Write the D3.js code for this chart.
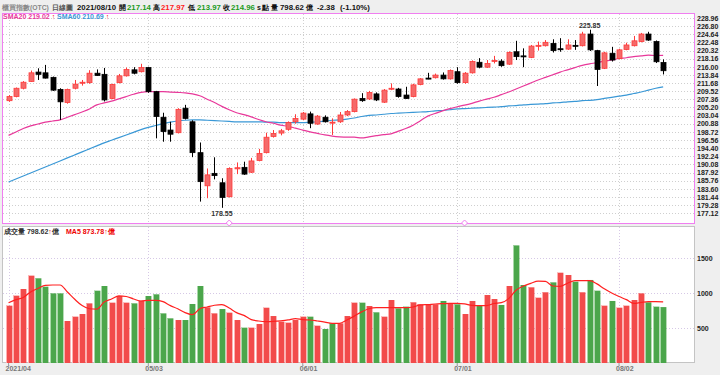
<!DOCTYPE html>
<html><head><meta charset="utf-8">
<script src="https://cdn.jsdelivr.net/npm/d3@7"></script>
<style>
html,body{margin:0;padding:0;background:#efefef;}
svg{display:block;font-family:"Liberation Sans",Arial,sans-serif;}
</style></head><body>
<svg id="c" width="720" height="375"></svg>
<script>
const dates = ["04/06","04/07","04/08","04/09","04/12","04/13","04/14","04/15","04/16","04/19","04/20","04/21","04/22","04/23","04/26","04/27","04/28","04/29","04/30",
"05/03","05/04","05/05","05/06","05/07","05/10","05/11","05/12","05/13","05/14","05/17","05/18","05/19","05/20","05/21","05/24","05/25","05/26","05/27","05/28","05/31",
"06/01","06/02","06/03","06/04","06/07","06/08","06/09","06/10","06/11","06/15","06/16","06/17","06/18","06/21","06/22","06/23","06/24","06/25","06/28","06/29","06/30",
"07/01","07/02","07/05","07/06","07/07","07/08","07/09","07/12","07/13","07/14","07/15","07/16","07/19","07/20","07/21","07/22","07/23","07/26","07/27","07/28","07/29","07/30",
"08/02","08/03","08/04","08/05","08/06","08/09","08/10"];
const open  = [207.0,208.1,210.3,212.1,214.6,214.4,213.2,210.0,206.5,210.3,211.7,211.8,214.3,214.0,207.6,211.8,213.6,215.2,214.7,
215.8,209.4,202.6,199.2,198.5,205.0,201.4,193.2,184.4,187.7,185.2,181.5,188.9,189.3,188.0,191.1,193.2,197.5,198.4,199.4,201.4,
202.1,203.5,200.8,202.6,201.2,201.4,203.2,204.1,207.6,207.45,208.8,206.6,210.1,210.1,208.5,208.1,211.3,213.0,213.1,213.8,212.8,
214.7,211.8,214.4,217.2,215.9,217.5,217.5,216.7,220.0,218.9,218.5,221.5,221.6,222.2,220.8,220.7,221.7,221.6,224.7,220.3,215.6,219.6,
218.2,220.6,221.6,222.7,224.7,222.7,217.14];
const high  = [208.5,210.5,212.2,215.0,215.6,216.5,213.4,210.3,210.2,212.5,212.5,215.1,215.3,215.7,211.5,214.1,215.8,215.9,216.8,
216.0,209.6,203.8,201.4,205.0,205.9,201.8,195.9,189.0,191.97,186.4,189.3,190.6,190.8,191.8,194.2,198.5,199.2,199.5,201.5,203.4,
204.0,204.1,203.2,203.1,202.3,204.0,204.5,207.6,209.0,209.6,209.2,210.1,211.6,210.4,210.7,211.5,213.0,214.4,214.2,214.5,215.3,
215.9,214.6,217.7,218.3,217.8,218.9,218.0,220.1,222.9,220.9,221.8,222.7,223.1,223.3,223.6,223.3,223.1,225.3,225.85,220.5,220.0,221.3,
220.8,222.4,224.2,225.0,225.3,223.0,217.97];
const low   = [206.7,207.9,210.0,212.0,212.5,212.9,209.6,201.9,206.2,210.0,211.0,211.5,213.6,206.8,207.4,211.6,213.4,214.0,214.5,
209.1,197.0,196.1,196.1,198.3,202.0,192.0,180.2,181.1,186.1,178.55,181.3,187.5,187.3,187.8,190.9,193.0,197.2,197.8,199.0,200.9,
201.8,199.7,200.6,201.2,197.9,201.1,202.9,203.9,206.7,207.2,206.9,206.4,209.8,207.8,207.5,207.9,211.1,212.7,212.9,212.6,212.6,
211.5,211.5,214.2,215.6,215.7,216.9,216.0,216.5,217.8,215.9,218.3,220.3,221.4,219.8,220.0,220.5,220.5,221.4,220.2,210.9,215.4,217.4,
218.0,220.4,221.4,222.5,222.9,217.0,213.97];
const close = [208.1,210.3,211.9,214.4,214.0,213.0,209.8,206.7,210.0,211.4,211.9,214.3,213.7,207.2,211.3,213.6,215.3,214.3,215.8,
209.4,202.8,198.8,198.1,204.7,202.3,193.2,185.5,187.3,187.1,181.3,189.0,189.2,187.5,191.0,193.0,197.3,198.3,199.0,201.2,202.3,
203.7,201.0,202.9,201.4,201.3,203.2,204.1,207.4,207.0,209.2,207.2,209.8,210.3,208.1,207.6,211.2,212.8,212.9,213.8,212.8,215.0,
211.8,214.3,217.4,215.9,216.9,217.7,216.3,219.8,218.7,218.7,221.5,221.7,222.5,220.3,220.6,221.8,221.6,224.7,220.5,215.3,219.7,217.8,
220.5,221.8,222.9,224.7,223.1,217.34,214.96];
const sma20 = [197.8,198.7,199.6,200.3,200.8,201.3,201.6,201.9,202.6,203.3,204.0,204.8,205.9,206.4,206.9,207.5,208.1,208.7,209.2,
209.4,209.4,209.4,209.3,209.2,209.1,208.8,208.3,207.4,206.5,205.5,204.6,203.8,203.3,202.7,202.0,201.4,201.0,200.5,200.2,199.7,
199.2,198.7,198.3,197.9,197.6,197.4,197.3,197.3,197.1,197.4,197.7,198.0,198.2,198.9,199.6,200.5,201.7,202.9,203.6,204.3,204.9,
205.4,205.8,206.3,206.9,207.4,207.9,208.6,209.3,210.1,210.9,211.7,212.5,213.2,213.9,214.6,215.2,215.8,216.4,216.8,217.1,217.5,217.8,
218.2,218.4,218.7,218.9,219.1,219.0,219.02];
const sma60 = [185.4,186.2,187.0,187.8,188.6,189.4,190.2,191.0,191.8,192.6,193.4,194.2,195.0,195.8,196.5,197.2,197.9,198.6,199.3,
199.9,200.4,200.9,201.3,201.6,201.8,201.9,201.9,201.8,201.7,201.6,201.5,201.4,201.4,201.4,201.4,201.3,201.3,201.2,201.2,201.2,
201.2,201.3,201.4,201.6,201.8,201.9,202.1,202.4,202.8,203.1,203.2,203.4,203.6,203.7,203.8,203.9,204.0,204.1,204.3,204.4,204.6,
204.8,204.9,205.0,205.1,205.2,205.3,205.4,205.6,205.7,205.9,206.0,206.1,206.2,206.4,206.5,206.7,206.8,207.0,207.1,207.3,207.6,207.9,
208.2,208.5,208.9,209.3,209.8,210.3,210.69];
const volume = [819,962,1057,1248,1210,1090,995,995,600,662,700,852,1033,1100,862,957,862,852,890,
957,981,709,638,614,614,843,1100,795,709,771,719,614,505,505,557,790,671,590,576,614,
662,662,533,486,567,567,671,862,862,814,724,662,900,781,805,867,838,838,838,886,852,
838,700,886,819,971,914,829,1100,1680,1114,1081,933,1010,1152,1290,1257,1162,1010,1186,1033,819,886,
790,819,900,995,867,805,798.62];
const volUp = [1,1,1,1,0,0,0,0,1,1,1,1,0,0,1,1,1,0,1,
0,0,0,0,1,0,0,0,1,1,0,1,1,0,1,1,1,1,1,1,1,
1,0,1,0,0,1,1,1,0,1,0,1,1,0,0,1,1,1,1,0,1,
0,1,1,0,1,1,0,1,0,0,1,1,1,0,1,1,0,1,0,0,1,0,
1,1,1,1,0,0,0];
const volMA5 = [860,905,935,1015,1065,1110,1114,1114,1015,910,820,775,771,870,915,960,950,915,886,
895,895,876,820,775,720,690,775,800,825,835,785,720,680,620,600,592,595,603,615,635,
620,614,600,585,567,567,615,670,730,775,790,790,790,790,790,800,829,835,843,848,852,
852,845,822,819,820,850,862,920,1040,1100,1138,1170,1165,1100,1095,1140,1176,1176,1176,1130,1060,1000,
950,905,852,865,876,876,873.78];
const priceTicks = [228.96,226.80,224.64,222.48,220.32,218.16,216.00,213.84,211.68,209.52,207.36,205.20,203.04,200.88,198.72,196.56,194.40,192.24,190.08,187.92,185.76,183.60,181.44,179.28,177.12];
const volTicks = [500,1000,1500];
const monthTicks = ["04/06","05/03","06/01","07/01","08/02"];
const monthLabels = ["2021/04","05/03","06/01","07/01","08/02"];
const eventDays = ["05/18","07/02"];

const svg = d3.select("#c");
const PINK = "#f07ef0", UPC = "#ff3b3b", UPF = "#f46a6a", DN = "#000";
const C20 = "#e8389a", C60 = "#3a98d6";

// panels
svg.append("rect").attr("x",2.5).attr("y",13.5).attr("width",692).attr("height",210).attr("fill","#fff").attr("stroke",PINK);
svg.append("rect").attr("x",2.5).attr("y",226.5).attr("width",692).attr("height",136).attr("fill","#fff").attr("stroke","#c4c4c4");

const x = d3.scaleBand().domain(dates).range([4.88, 4.88 + 90*7.355]).padding(0);
const cx = d => x(d) + x.bandwidth()/2;
const y = d3.scaleLinear().domain([177.12, 228.96]).range([213.2, 18]);
const yv = d3.scaleLinear().domain([0, 1500]).range([363, 258]);

// grids
const g = svg.append("g");
g.selectAll(".hg").data(priceTicks).enter().append("line")
 .attr("x1",3).attr("x2",694).attr("y1",d=>Math.round(y(d))+0.5).attr("y2",d=>Math.round(y(d))+0.5)
 .attr("stroke","#cfcfcf").attr("stroke-dasharray","1,2");
g.selectAll(".vg").data(monthTicks).enter().append("line")
 .attr("x1",d=>Math.round(cx(d))+0.5).attr("x2",d=>Math.round(cx(d))+0.5).attr("y1",14).attr("y2",223)
 .attr("stroke","#cfcfcf").attr("stroke-dasharray","1,2");
g.selectAll(".vg2").data(monthTicks).enter().append("line")
 .attr("x1",d=>Math.round(cx(d))+0.5).attr("x2",d=>Math.round(cx(d))+0.5).attr("y1",227).attr("y2",366)
 .attr("stroke","#d6c8e6").attr("stroke-dasharray","1,2");
g.selectAll(".hv").data(volTicks).enter().append("line")
 .attr("x1",3).attr("x2",694).attr("y1",d=>Math.round(yv(d))+0.5).attr("y2",d=>Math.round(yv(d))+0.5)
 .attr("stroke","#d6c8e6").attr("stroke-dasharray","1,2");

// right axis labels
const yAxis = d3.axisRight(y).tickValues(priceTicks).tickSize(0).tickPadding(3).tickFormat(d3.format(".2f"));
const ya = svg.append("g").attr("transform","translate(694,0)").call(yAxis);
ya.select(".domain").remove();
ya.selectAll("text").attr("font-size",7).attr("font-weight","bold").attr("fill","#222");
const vAxis = d3.axisRight(yv).tickValues(volTicks).tickSize(0).tickPadding(3).tickFormat(d3.format("d"));
const va = svg.append("g").attr("transform","translate(694,0)").call(vAxis);
va.select(".domain").remove();
va.selectAll("text").attr("font-size",7).attr("font-weight","bold").attr("fill","#222");

// x axis
const xa = svg.append("g").attr("transform","translate(0,363)").call(d3.axisBottom(x).tickValues(monthTicks).tickSize(3).tickFormat((d,i)=>monthLabels[i]));
xa.select(".domain").remove();
xa.selectAll("line").attr("stroke","#999");
xa.selectAll("text").attr("font-size",7).attr("font-weight","bold").attr("fill","#777").attr("text-anchor","start").attr("dy","0.55em").attr("y",4).attr("x",-3);

// MA lines
const lineP = arr => d3.line().x((d,i)=>cx(dates[i])).y(d=>y(d)).curve(d3.curveMonotoneX)(arr);
svg.append("path").attr("d",lineP(sma60)).attr("fill","none").attr("stroke",C60).attr("stroke-width",1.2);
svg.append("path").attr("d",lineP(sma20)).attr("fill","none").attr("stroke",C20).attr("stroke-width",1.2);

// candles
const idx = d3.range(dates.length);
const cg = svg.append("g");
cg.selectAll(".wick").data(idx).enter().append("line")
 .attr("x1",i=>Math.round(cx(dates[i]))+0.5).attr("x2",i=>Math.round(cx(dates[i]))+0.5)
 .attr("y1",i=>y(high[i])).attr("y2",i=>y(low[i]))
 .attr("stroke",i=>close[i]>=open[i]?UPC:DN);
cg.selectAll(".body").data(idx).enter().append("rect")
 .attr("x",i=>Math.round(cx(dates[i]))-2.5+0.5).attr("width",5)
 .attr("y",i=>y(Math.max(open[i],close[i])))
 .attr("height",i=>Math.max(1,Math.abs(y(open[i])-y(close[i]))))
 .attr("fill",i=>close[i]>=open[i]?UPF:DN)
 .attr("stroke",i=>close[i]>=open[i]?UPC:DN).attr("stroke-width",0.8);

// extreme labels
const iMax = d3.maxIndex(high), iMin = d3.minIndex(low);
svg.append("text").attr("x",cx(dates[iMax])).attr("y",y(high[iMax])-2).attr("text-anchor","middle")
 .attr("font-size",7).attr("font-weight","bold").attr("fill","#333").text(high[iMax].toFixed(2));
svg.append("text").attr("x",cx(dates[iMin])).attr("y",y(low[iMin])+8).attr("text-anchor","middle")
 .attr("font-size",7).attr("font-weight","bold").attr("fill","#333").text(low[iMin].toFixed(2));

// event diamonds on bottom border
eventDays.forEach(d=>{
  const px = cx(d);
  svg.append("path").attr("d",`M${px-3},223 L${px},220 L${px+3},223 L${px},226 Z`).attr("fill","#fff").attr("stroke",PINK);
});

// volume bars
const vg = svg.append("g");
vg.selectAll("rect").data(idx).enter().append("rect")
 .attr("x",i=>Math.round(cx(dates[i]))-3).attr("width",6.4)
 .attr("y",i=>yv(volume[i])).attr("height",i=>yv(0)-yv(volume[i]))
 .attr("fill",i=>volUp[i]?"#f24b4b":"#4ba64b");
vg.selectAll("line").data(idx).enter().append("line")
 .attr("x1",i=>Math.round(cx(dates[i]))-2.5).attr("x2",i=>Math.round(cx(dates[i]))-2.5)
 .attr("y1",i=>yv(volume[i])).attr("y2",yv(0))
 .attr("stroke",i=>volUp[i]?"#ffb0b0":"#a8d8a8").attr("stroke-width",1);
svg.append("path").attr("d",d3.line().x((d,i)=>cx(dates[i])).y(d=>yv(d)).curve(d3.curveMonotoneX)(volMA5))
 .attr("fill","none").attr("stroke","#ff2020").attr("stroke-width",1.2);

// header
const H = svg.append("text").attr("y",10).attr("font-weight","bold");
const parts = [
 [2,"櫃買指數(OTC)","#888",6.8],[52,"日線圖","#555",6.8],[77,"2021/08/10","#111",7.8],
 [119,"開","#111",7],[127,"217.14","#1a9a1a",7.8],[153,"高","#111",7],[161,"217.97","#ff2020",7.8],
 [188,"低","#111",7],[197,"213.97","#1a9a1a",7.8],[223,"收","#111",7],[231,"214.96","#1a9a1a",7.8],
 [257,"s","#111",7],[262,"點","#111",7],[271,"量","#111",7],[280,"798.62","#111",7.8],[306,"億","#111",7],
 [317,"-2.38","#111",7.8],[340,"(-1.10%)","#111",7.8]
];
parts.forEach(p=>H.append("tspan").attr("x",p[0]).attr("fill",p[2]).attr("font-size",p[3]).text(p[1]));

// legends
const L = svg.append("text").attr("y",19).attr("font-size",7).attr("font-weight","bold");
L.append("tspan").attr("x",3).attr("fill",C20).text("SMA20 "+sma20[sma20.length-1].toFixed(2));
L.append("tspan").attr("fill","#e00").text(" ↑");
L.append("tspan").attr("x",57).attr("fill",C60).text("SMA60 "+sma60[sma60.length-1].toFixed(2));
L.append("tspan").attr("fill","#e00").text(" ↑");
const VL = svg.append("text").attr("y",234).attr("font-size",7).attr("font-weight","bold");
VL.append("tspan").attr("x",4).attr("fill","#333").text("成交量 "+volume[volume.length-1].toFixed(2));
VL.append("tspan").attr("fill","#e00").text("↑");
VL.append("tspan").attr("fill","#333").text("億");
VL.append("tspan").attr("x",66).attr("fill","#e00").text("MA5 "+volMA5[volMA5.length-1].toFixed(2)+"↑億");
</script></body></html>
